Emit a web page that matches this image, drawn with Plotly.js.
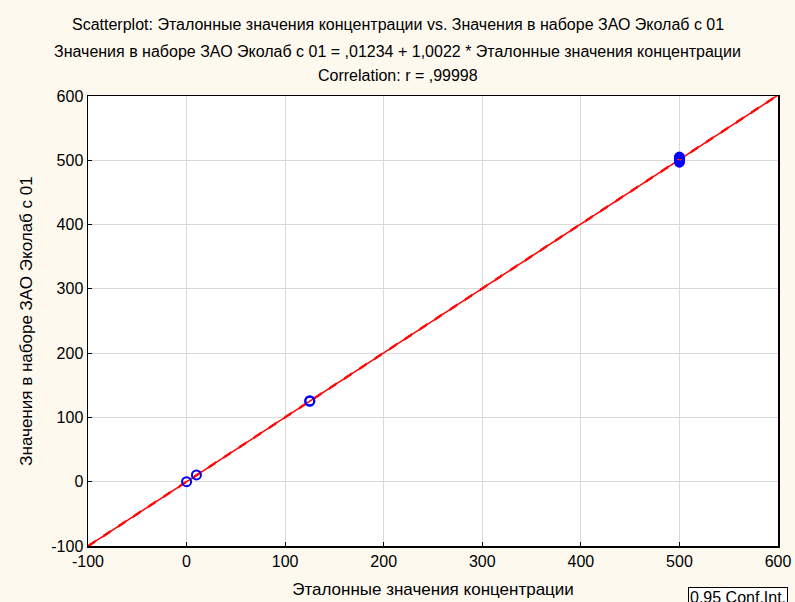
<!DOCTYPE html>
<html>
<head>
<meta charset="utf-8">
<script src="https://cdn.plot.ly/plotly-3.0.1.min.js"></script>
<style>html,body{margin:0;padding:0;background:#fdf9ef;}</style>
</head>
<body>
<div id="chart" style="width:795px;height:602px;"></div>
<script>
// Observed points (reference concentration vs measured value)
const refValues = [0, 10, 125, 125, 500, 500, 500, 500, 500];
const measuredValues = [0, 10.5, 125, 126, 497, 499, 501, 503, 505];
// Regression
const intercept = 0.01234;
const slope = 1.0022;
const lineRange = [-100, 600];
const ciOffset = [-1.5, 1.5];
const xTicks = [-100, 0, 100, 200, 300, 400, 500, 600];
const yTicks = [-100, 0, 100, 200, 300, 400, 500, 600];
const titleLines = [
  'Scatterplot: Эталонные значения концентрации vs. Значения в наборе ЗАО Эколаб с 01',
  'Значения в наборе ЗАО Эколаб с 01 = ,01234 + 1,0022 * Эталонные значения концентрации',
  'Correlation: r = ,99998'
];

const traces = [
  {x: lineRange, y: lineRange.map(x => intercept + slope * x), mode: 'lines', line: {color: '#ff0000', width: 1.5}, hoverinfo: 'skip'},
  {x: lineRange, y: lineRange.map(x => intercept + slope * x + ciOffset[0]), mode: 'lines', line: {color: '#ff0000', width: 1, dash: 'dash'}, hoverinfo: 'skip'},
  {x: lineRange, y: lineRange.map(x => intercept + slope * x + ciOffset[1]), mode: 'lines', line: {color: '#ff0000', width: 1, dash: 'dash'}, hoverinfo: 'skip'},
  {x: refValues, y: measuredValues, mode: 'markers', marker: {symbol: 'circle-open', size: 9, color: '#0000ff', line: {width: 2, color: '#0000ff'}}}
];

const fontFam = 'Arial, "Liberation Sans", sans-serif';
const titleY = [1.16, 1.098, 1.045];
const annotations = titleLines.map((t, i) => ({
  text: t, xref: 'paper', yref: 'paper', x: 0.449, y: titleY[i],
  xanchor: 'center', yanchor: 'middle', showarrow: false,
  font: {family: fontFam, size: 16, color: '#000'}
}));
annotations.push({
  text: '0.95 Conf.Int.', xref: 'paper', yref: 'paper', x: 0.8696, y: -0.0911,
  xanchor: 'left', yanchor: 'top', showarrow: false,
  font: {family: fontFam, size: 16, color: '#000'}, bgcolor: '#ffffff', bordercolor: '#000', borderwidth: 1, borderpad: 1
});

const layout = {
  width: 795, height: 602,
  paper_bgcolor: '#fdf9ef',
  plot_bgcolor: '#ffffff',
  showlegend: false,
  margin: {l: 88, r: 17, t: 96, b: 56},
  font: {family: fontFam, size: 16, color: '#000'},
  xaxis: {
    range: [-100, 600], tickvals: xTicks, ticktext: xTicks.map(String),
    showgrid: true, gridcolor: '#d9d9d9', gridwidth: 1, zeroline: false,
    showline: true, linecolor: '#000', linewidth: 1.5, mirror: true,
    ticks: 'inside', ticklen: 4, tickcolor: '#000',
    tickfont: {size: 16},
    title: {text: 'Эталонные значения концентрации', font: {size: 17}, standoff: 14}
  },
  yaxis: {
    range: [-100, 600], tickvals: yTicks, ticktext: yTicks.map(String),
    showgrid: true, gridcolor: '#d9d9d9', gridwidth: 1, zeroline: false,
    showline: true, linecolor: '#000', linewidth: 1.5, mirror: true,
    ticks: 'inside', ticklen: 4, tickcolor: '#000',
    tickfont: {size: 16},
    title: {text: 'Значения в наборе ЗАО Эколаб с 01', font: {size: 17}, standoff: 14}
  },
  annotations: annotations
};
Plotly.newPlot('chart', traces, layout, {displayModeBar: false, staticPlot: true});
</script>
</body>
</html>
